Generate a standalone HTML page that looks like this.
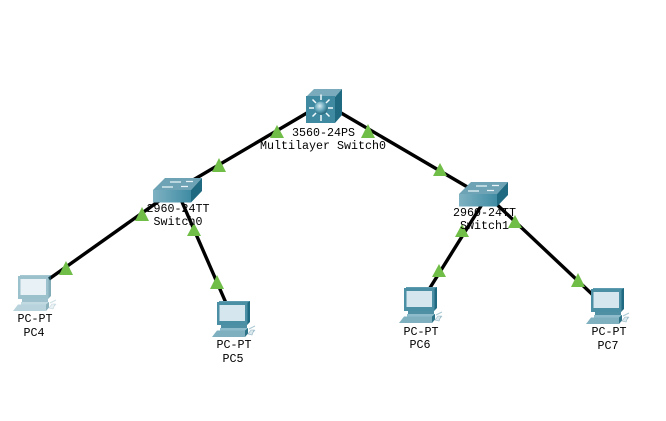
<!DOCTYPE html>
<html><head><meta charset="utf-8"><style>
html,body{margin:0;padding:0;background:#fff;width:666px;height:421px;overflow:hidden}
svg{display:block}
text{font-family:"Liberation Mono",monospace;font-size:11.67px;fill:#000;text-anchor:middle}
</style></head><body>
<svg width="666" height="421" viewBox="0 0 666 421" xmlns="http://www.w3.org/2000/svg">
<defs>
<radialGradient id="orb" cx="40%" cy="35%" r="70%"><stop offset="0" stop-color="#d8edf3"/><stop offset="0.55" stop-color="#5fa3b8"/><stop offset="1" stop-color="#1f5f73"/></radialGradient>
<linearGradient id="front" x1="0" y1="0" x2="1" y2="0"><stop offset="0" stop-color="#7fb2c2"/><stop offset="1" stop-color="#3f8ba3"/></linearGradient>
<g id="pc">
<path d="M2 0H33L31 3H2Z" fill="#5d9cb0"/>
<path d="M30 2L33 0V21L30 24Z" fill="#1f6a80"/>
<rect x="0" y="1" width="30.500" height="23" fill="#4b8fa5"/>
<rect x="2.500" y="4" width="25.500" height="16" fill="#d6e6ee"/>
<rect x="4" y="24" width="26" height="3" fill="#4f90a5"/>
<rect x="3" y="27" width="28" height="2.500" fill="#8fbccb"/>
<path d="M1 30H28V30.500H0Z" fill="#5f9db1"/>
<path d="M0 29.500H28L28 36H-5Z" fill="#7fb0c0"/>
<path d="M28 29.500L31 27V32.500L28 36Z" fill="#2d7388"/>
<path d="M32 28L38 25M36 31L38 29" stroke="#a9c8d3" stroke-width="1" fill="none"/>
<path d="M31 33L34 29H37L35 34Z" fill="#dbe8ed" stroke="#8fb3c0" stroke-width=".6"/>
</g>
<g id="sw">
<path d="M0 12L12 0H49L38 12Z" fill="#6ea3b5"/>
<rect x="0" y="12" width="38" height="12.500" fill="url(#front)"/>
<path d="M38 12L49 0V13L38 24.500Z" fill="#1f6a80"/>
<path d="M17 4H28M33 3.500H40M9 9H20M28 8.500H35" stroke="#e8f4f7" stroke-width="1.300"/>
</g>
</defs>

<g stroke="#000" stroke-width="3.400" fill="none" stroke-linecap="butt">
<line x1="312" y1="110" x2="188" y2="183"/>
<line x1="336" y1="110" x2="476" y2="192"/>
<line x1="176" y1="189" x2="49" y2="279"/>
<line x1="182" y1="202" x2="226" y2="303"/>
<line x1="486" y1="198" x2="428" y2="291"/>
<line x1="490" y1="198" x2="594" y2="296"/>
</g>

<!-- Multilayer switch -->
<g>
<path d="M306 97L314 89H342L335 97Z" fill="#79abbc"/>
<rect x="306" y="96" width="29" height="27" fill="#3f8aa1"/>
<path d="M335 97L342 89V115L335 123Z" fill="#1f6a80"/>
<g stroke="#f2fafc" stroke-width="1.500">
<path d="M321 94.500V100M321 115V121M309 108H314M328 108H333M312.500 99.500L316 103M329.500 99.500L326 103M312.500 116.500L316 113M329.500 116.500L326 113"/>
</g>
<circle cx="321" cy="108" r="6.500" fill="url(#orb)"/>
</g>

<use href="#sw" x="153" y="178"/>
<use href="#sw" x="459" y="182"/>

<use href="#pc" x="18" y="275" opacity=".55"/>
<use href="#pc" x="217" y="301"/>
<use href="#pc" x="404" y="287"/>
<use href="#pc" x="591" y="288"/>

<g fill="#70bd47">
<path d="M277 125L284 138H270Z"/>
<path d="M219 158L226 172H212Z"/>
<path d="M368 124L375 138H361Z"/>
<path d="M440 163L447 176H433Z"/>
<path d="M142 207L149 221H135Z"/>
<path d="M66 261L73 275H59Z"/>
<path d="M194 223L201 236H187Z"/>
<path d="M217 275L224 289H210Z"/>
<path d="M462 224L469 237H455Z"/>
<path d="M439 264L446 277H432Z"/>
<path d="M515 215L522 228H508Z"/>
<path d="M578 273L585 287H571Z"/>
</g>

<text x="323.500" y="136">3560-24PS</text>
<text x="323" y="149">Multilayer Switch0</text>
<text x="178" y="212">2960-24TT</text>
<text x="178" y="225">Switch0</text>
<text x="484.500" y="216">2960-24TT</text>
<text x="484.500" y="229">Switch1</text>
<text x="35" y="322">PC-PT</text>
<text x="34" y="336">PC4</text>
<text x="234" y="348">PC-PT</text>
<text x="233" y="362">PC5</text>
<text x="421" y="335">PC-PT</text>
<text x="420" y="348">PC6</text>
<text x="609" y="335">PC-PT</text>
<text x="608" y="349">PC7</text>
</svg>
</body></html>
